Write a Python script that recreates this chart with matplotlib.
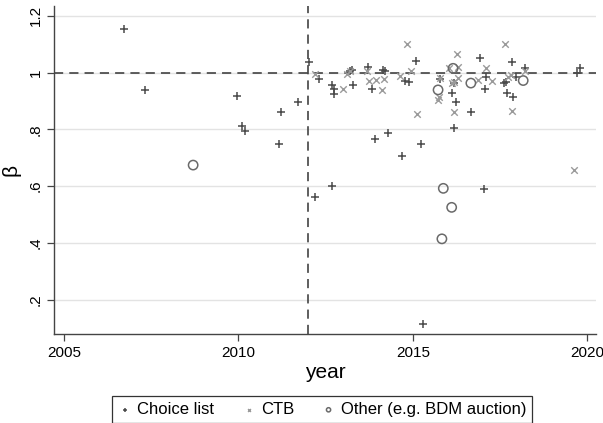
import matplotlib
matplotlib.use("Agg")
import matplotlib.pyplot as plt

plt.rcParams['font.family'] = ['Liberation Sans', 'DejaVu Sans']

# Choice list (+)
choice_year = [2006.73, 2007.31, 2009.95, 2010.09, 2010.19, 2011.17, 2011.22, 2011.70,
               2012.03, 2012.19, 2012.32, 2012.67, 2012.69, 2012.74, 2012.74, 2013.19,
               2013.26, 2013.27, 2013.72, 2013.84, 2013.91, 2014.15, 2014.20, 2014.29,
               2014.68, 2014.78, 2014.89, 2015.10, 2015.22, 2015.30, 2015.77, 2016.11,
               2016.17, 2016.18, 2016.23, 2016.66, 2016.92, 2017.04, 2017.06, 2017.08,
               2017.61, 2017.68, 2017.70, 2017.84, 2017.87, 2017.95, 2018.21, 2019.71,
               2019.80]
choice_beta = [1.154, 0.939, 0.918, 0.813, 0.794, 0.748, 0.860, 0.898,
               1.039, 0.562, 0.978, 0.957, 0.601, 0.941, 0.924, 1.004,
               1.010, 0.957, 1.021, 0.942, 0.765, 1.010, 1.006, 0.786,
               0.706, 0.971, 0.966, 1.041, 0.749, 0.113, 0.978, 0.927,
               0.804, 0.965, 0.896, 0.860, 1.053, 0.588, 0.941, 0.984,
               0.963, 0.968, 0.929, 1.039, 0.915, 0.986, 1.015, 0.998,
               1.015]

# CTB (x)
ctb_year = [2012.19, 2013.00, 2013.10, 2013.21, 2013.67, 2013.73, 2013.93, 2014.12,
            2014.16, 2014.63, 2014.84, 2014.94, 2015.13, 2015.73, 2015.74, 2015.78,
            2016.04, 2016.11, 2016.18, 2016.19, 2016.26, 2016.28, 2016.28, 2016.87,
            2017.08, 2017.27, 2017.65, 2017.73, 2017.80, 2017.85, 2018.21, 2019.61]
ctb_beta = [0.995, 0.941, 0.995, 1.004, 1.004, 0.972, 0.974, 0.939,
            0.978, 0.988, 1.101, 1.007, 0.854, 0.904, 0.915, 0.980,
            1.015, 0.965, 0.862, 0.966, 1.066, 1.021, 0.980, 0.974,
            1.015, 0.971, 1.101, 0.984, 0.992, 0.866, 1.004, 0.657]

# Other (o)
other_year = [2008.70, 2015.72, 2015.83, 2015.87, 2016.11, 2016.15, 2016.66, 2018.16]
other_beta = [0.674, 0.939, 0.414, 0.592, 0.525, 1.015, 0.963, 0.972]

xticks = [2005, 2010, 2015, 2020]
yticks = [0.2, 0.4, 0.6, 0.8, 1.0, 1.2]
ylabels = ['.2', '.4', '.6', '.8', '1', '1.2']

fig = plt.figure(figsize=(6.03, 4.23), dpi=100)
ax = fig.add_axes([0.090, 0.210, 0.898, 0.776])

ax.scatter(choice_year, choice_beta, marker='+', s=40, color='#4a4a4a', linewidths=1.1,
           label='Choice list', zorder=3)
ax.scatter(ctb_year, ctb_beta, marker='x', s=22, color='#9a9a9a', linewidths=1.0,
           label='CTB', zorder=3)
ax.scatter(other_year, other_beta, marker='o', s=45, facecolors='none',
           edgecolors='#6a6a6a', linewidths=1.1, label='Other (e.g. BDM auction)', zorder=3)

ax.axhline(1, color='#333333', linestyle=(0, (6, 4)), linewidth=1.1, zorder=2)
ax.axvline(2012, color='#333333', linestyle=(0, (6, 4)), linewidth=1.1, zorder=2)

ax.set_xlim(2004.72, 2020.24)
ax.set_ylim(0.078, 1.235)
ax.set_xticks(xticks)
ax.set_yticks(yticks)
ax.set_yticklabels(ylabels, rotation=90, va='center')
ax.tick_params(axis='both', labelsize=11, color='#444444', length=5, width=0.9)
ax.grid(axis='y', color='#e3e3e3', linewidth=1.0, zorder=0)
ax.set_axisbelow(True)

for s in ['top', 'right']:
    ax.spines[s].set_visible(False)
for s in ['left', 'bottom']:
    ax.spines[s].set_color('#444444')
    ax.spines[s].set_linewidth(1.0)

ax.set_xlabel('year', fontsize=15, labelpad=2)
ax.set_ylabel('β', fontsize=15, labelpad=6)

handles, labels = ax.get_legend_handles_labels()
leg = fig.legend(handles, labels, loc='lower center', bbox_to_anchor=(322 / 603, 0.0),
                 ncol=3, frameon=True, fancybox=False, edgecolor='black', fontsize=12,
                 handletextpad=0.3, columnspacing=1.6, markerscale=0.45,
                 borderpad=0.35, handlelength=0.9, borderaxespad=0.0)
leg.get_frame().set_linewidth(0.9)

fig.savefig('out.png', dpi=100)
